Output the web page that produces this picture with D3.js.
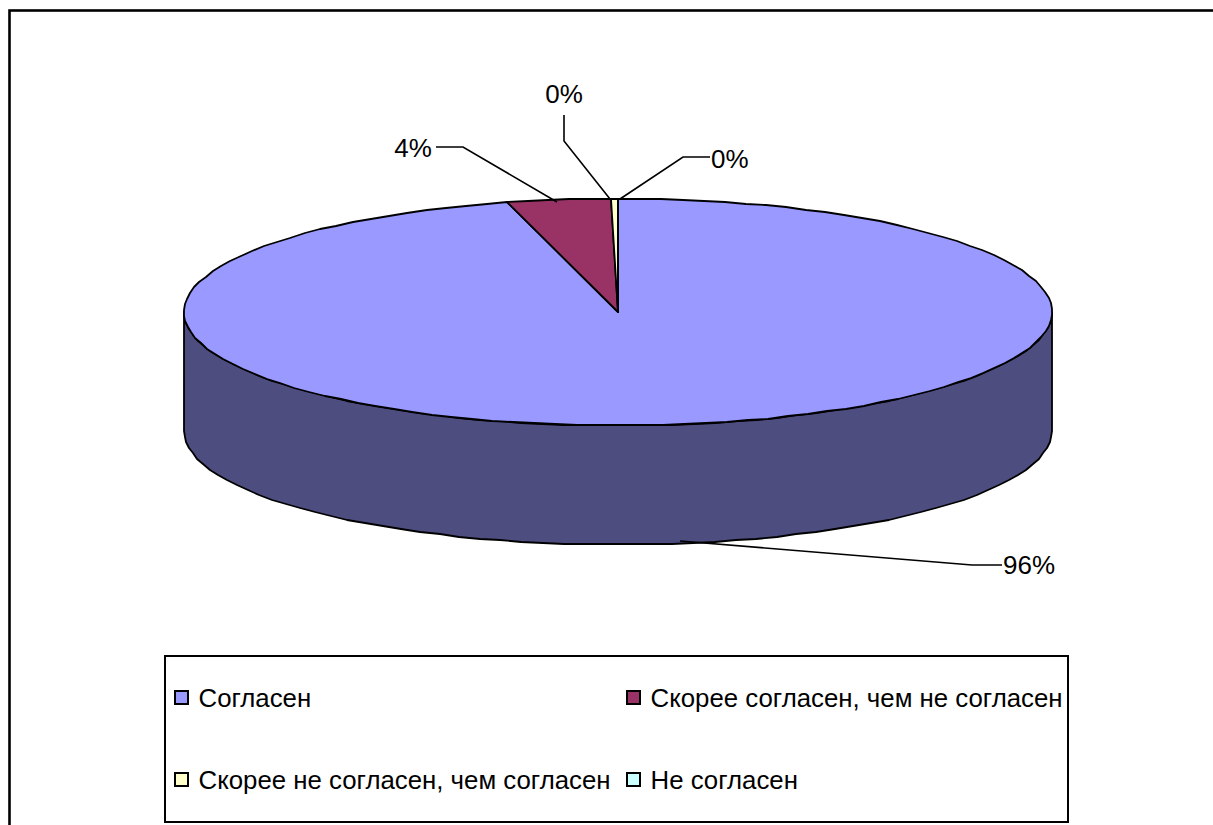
<!DOCTYPE html>
<html>
<head>
<meta charset="utf-8">
<script src="https://cdn.jsdelivr.net/npm/d3@7"></script>
<style>
  html, body { margin: 0; padding: 0; background: #fff; overflow: hidden; }
  text { font-family: "Liberation Sans", Arial, sans-serif; fill: #000; }
</style>
</head>
<body>
<div id="wrapper"></div>
<script>
const categories = [
  "Согласен",
  "Скорее согласен, чем не согласен",
  "Скорее не согласен, чем согласен",
  "Не согласен",
];
const shares = [95.9, 3.83, 0.26, 0.01];
const pctLabels = ["96%", "4%", "0%", "0%"];
const topColors = ["#9999ff", "#993366", "#ffffcc", "#ccffff"];
const sideColors = ["#4d4d80", "#4d1a33", "#808066", "#668080"];

const dimensions = { width: 1213, height: 825 };
const pieBox = { cx: 618, cy: 312, rx: 434, ry: 113.5, depth: 119 };

const wrapper = d3.select("#wrapper").append("svg")
  .attr("width", dimensions.width)
  .attr("height", dimensions.height)
  .style("display", "block");

// chart frame, runs off the right and bottom of the page
wrapper.append("rect")
  .attr("x", 9.5).attr("y", 10.5)
  .attr("width", 1240).attr("height", 860)
  .attr("fill", "#fff").attr("stroke", "#000").attr("stroke-width", 2.6);

const arcs = d3.pie().sort(null).value(d => d)(shares);

// angle 0 is 12 o'clock, clockwise, same as d3.pie
const px = a => Math.round(pieBox.cx + pieBox.rx * Math.sin(a));
const py = a => Math.round(pieBox.cy - pieBox.ry * Math.cos(a));

const rimPoints = (a0, a1) => {
  const n = Math.max(1, Math.ceil((a1 - a0) / 0.05));
  return d3.range(n + 1).map(i => a0 + (a1 - a0) * i / n);
};

const line = d3.line();

// side wall: only the front half of the pie is visible
arcs.forEach((d, i) => {
  const a0 = Math.max(d.startAngle, Math.PI / 2);
  const a1 = Math.min(d.endAngle, Math.PI * 1.5);
  if (a1 <= a0) return;
  const rim = rimPoints(a0, a1).map(a => [px(a), py(a)]);
  const low = rim.map(([x, y]) => [x, y + pieBox.depth]).reverse();
  wrapper.append("path")
    .attr("d", line(rim.concat(low)) + "Z")
    .attr("fill", sideColors[i])
    .attr("stroke", "#000")
    .attr("stroke-width", 1.8)
    .attr("stroke-linejoin", "round");
});

// top face
arcs.forEach((d, i) => {
  const rim = rimPoints(d.startAngle, d.endAngle).map(a => [px(a), py(a)]);
  wrapper.append("path")
    .attr("d", line([[pieBox.cx, pieBox.cy]].concat(rim)) + "Z")
    .attr("fill", topColors[i])
    .attr("stroke", "#000")
    .attr("stroke-width", 1.8)
    .attr("stroke-linejoin", "round");
});

// data labels with their leader lines
const leaders = [
  { text: [1003, 574], anchor: "start", path: [[680, 541], [972, 565], [1002, 565]] },
  { text: [413, 157], anchor: "middle", path: [[557, 202], [463, 147], [436, 147]] },
  { text: [564, 103], anchor: "middle", path: [[610, 199], [564, 141], [564, 115]] },
  { text: [711, 168], anchor: "start", path: [[620, 199], [683, 157], [710, 157]] },
];
leaders.forEach((l, i) => {
  wrapper.append("path")
    .attr("d", line(l.path))
    .attr("fill", "none")
    .attr("stroke", "#000")
    .attr("stroke-width", 1.6);
  wrapper.append("text")
    .attr("x", l.text[0]).attr("y", l.text[1])
    .attr("text-anchor", l.anchor)
    .attr("font-size", 26)
    .text(pctLabels[i]);
});

// legend
const legend = wrapper.append("g");
legend.append("rect")
  .attr("x", 165).attr("y", 656)
  .attr("width", 903).attr("height", 166)
  .attr("fill", "#fff").attr("stroke", "#000").attr("stroke-width", 2);

const legendX = d3.scaleOrdinal().domain([0, 1]).range([175, 627]);
const legendY = d3.scaleOrdinal().domain([0, 1]).range([698, 780]);

categories.forEach((name, i) => {
  const col = i % 2, row = Math.floor(i / 2);
  legend.append("rect")
    .attr("x", legendX(col)).attr("y", legendY(row) - 7)
    .attr("width", 13).attr("height", 13)
    .attr("fill", topColors[i])
    .attr("stroke", "#000").attr("stroke-width", 2);
  legend.append("text")
    .attr("x", legendX(col) + 23.5).attr("y", legendY(row) + 9)
    .attr("font-size", 25.8)
    .text(name);
});
</script>
</body>
</html>
